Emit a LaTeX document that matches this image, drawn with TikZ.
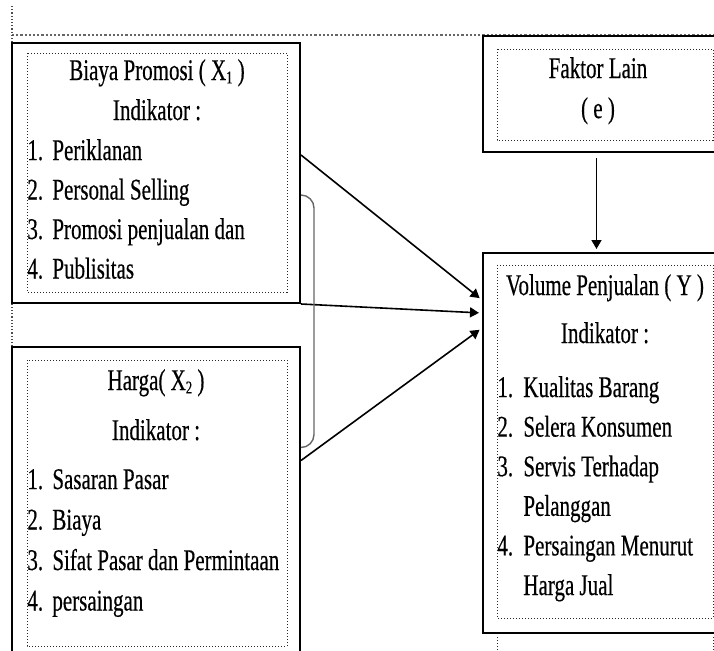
\documentclass[tikz,border=0pt]{standalone}
\usepackage{fontspec}
\setmainfont[FakeStretch=0.7,FakeBold=0.4]{Liberation Serif}
\usetikzlibrary{positioning}
\usetikzlibrary{arrows.meta}
\usetikzlibrary{calc}

\newcommand{\butir}[3][12.5pt]{\makebox[#1][l]{#2}#3}
\newcommand{\subk}[1]{\raisebox{-0.25ex}{\fontsize{9pt}{9pt}\selectfont #1}}

\tikzset{
  kotak/.style={draw, line width=1pt, inner sep=0pt},
  sel/.style={draw=black!85, densely dotted, line width=0.5pt},
  teks/.style={inner sep=0pt, anchor=base, font=\fontsize{15pt}{18pt}\selectfont},
  panah/.style={-{Triangle[length=4.5pt,width=5pt]}, line width=0.8pt, shorten >=1.5pt},
}

\begin{document}
\begin{tikzpicture}[x=0.5pt,y=-0.5pt]
\clip (0,0) rectangle (714,650);
% garis tabel
\draw[black!60, densely dotted, line width=1.1pt] (12,35) -- (714,35);
\draw[black!70, densely dotted, line width=0.6pt] (12,6) -- (12,650);
% kotak luar
\node[kotak, minimum width=144pt, minimum height=130pt] (x1) at (156,173) {};
\node[kotak, minimum width=144pt, minimum height=156.5pt] (x2) at (156,503.5) {};
\node[kotak, minimum width=123.5pt, minimum height=58pt] (e) at (606.5,94) {};
\node[kotak, minimum width=123.5pt, minimum height=190pt] (y) at (606.5,443) {};
% kotak dalam
\draw[sel] (27,53) rectangle (287,292);
\draw[sel] (27,360) rectangle (287,646);
\draw[sel] (497,49) rectangle (713,140);
\draw[sel] (497,265) rectangle (713,618);
\draw[sel] (497,637) -- (497,650);
\draw[sel] (713,637) -- (713,650);
% biaya promosi
\node[teks] (x1judul) at (157,80) {Biaya Promosi ( X\subk{1} )};
\node[teks] (x1ind) at (157,120) {Indikator :};
\foreach \nr/\isi [count=\i from 0] in {1./Periklanan, 2./Personal Selling, 3./Promosi penjualan dan, 4./Publisitas}
  \node[teks, anchor=base west] (x1i\i) at (27,160+39.5*\i) {\butir{\nr}{\isi}};
% harga
\node[teks] (x2judul) at (156,390) {Harga( X\subk{2} )};
\node[teks] (x2ind) at (156,440) {Indikator :};
\foreach \nr/\isi [count=\i from 0] in {1./Sasaran Pasar, 2./Biaya, 3./Sifat Pasar dan Permintaan, 4./persaingan}
  \node[teks, anchor=base west] (x2i\i) at (27,489+40.5*\i) {\butir{\nr}{\isi}};
% faktor lain
\node[teks] (ejudul) at (598,78) {Faktor Lain};
\node[teks] (eisi) at (598,118) {( e )};
% volume penjualan
\node[teks] (yjudul) at (605,295) {Volume Penjualan ( Y )};
\node[teks] (yind) at (605,343) {Indikator :};
\foreach \nr/\isi [count=\i from 0] in {1./Kualitas Barang, 2./Selera Konsumen, 3./Servis Terhadap, /Pelanggan, 4./Persaingan Menurut, /Harga Jual}
  \node[teks, anchor=base west] (yi\i) at (497,397+39.6*\i) {\butir[13pt]{\nr}{\isi}};
% panah
\draw[panah] ($(x1.east)+(0,-18)$) -- ($(y.west)+(0,-143)$);
\draw[panah] (x1.south east) -- ($(y.west)+(0,-130)$);
\draw[panah] ($(x2.east)+(0,-43)$) -- ($(y.west)+(0,-115)$);
\draw[panah, shorten <=2.5pt] ($(e.south)+(-10,0)$) -- ($(y.north)+(-10,0)$);
\draw[black!60, line width=0.7pt, rounded corners=6.5pt] ($(x1.east)+(0,22)$) -| ($(x2.east)+(13,-56)$) -- ($(x2.east)+(0,-56)$);
\end{tikzpicture}
\end{document}
